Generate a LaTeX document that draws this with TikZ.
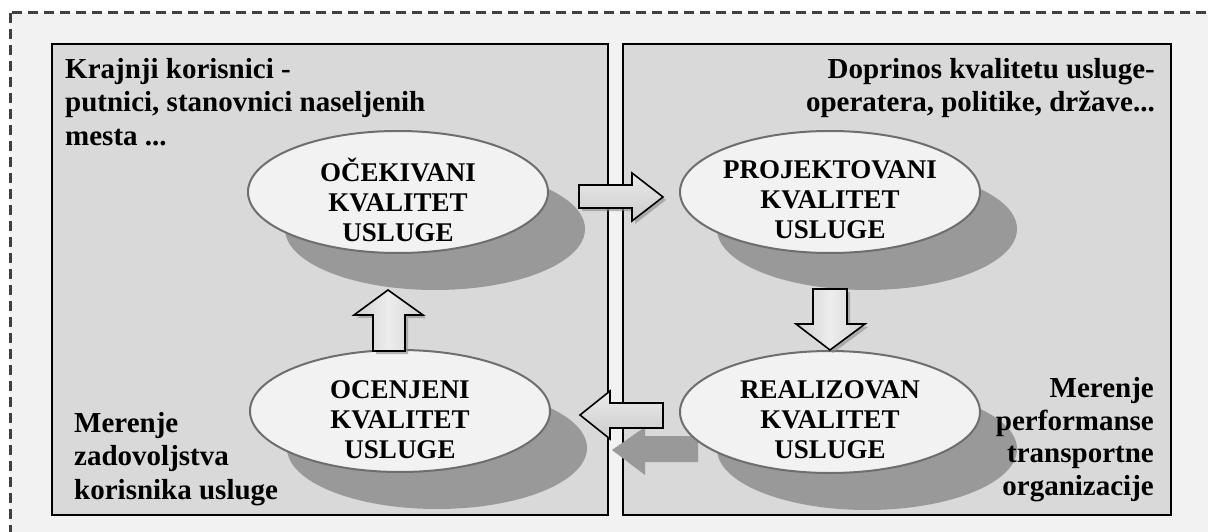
\documentclass[tikz,border=0pt]{standalone}
\usepackage{fontspec}
\setmainfont{Liberation Serif}
\usetikzlibrary{shapes.geometric}
\definecolor{outerbg}{HTML}{F2F2F2}
\definecolor{panelbg}{HTML}{D9D9D9}
\definecolor{ellfill}{HTML}{F2F2F2}
\definecolor{elldraw}{HTML}{6E6E6E}
\definecolor{shadowc}{HTML}{999999}
\definecolor{dashc}{HTML}{404040}
\tikzset{
  panel/.style={draw=black, line width=1.2pt, fill=panelbg},
  ell/.style={ellipse, draw=elldraw, line width=2pt, fill=ellfill, minimum width=300pt, minimum height=122pt, inner sep=0pt},
  ellshadow/.style={ellipse, fill=shadowc, minimum width=300pt, minimum height=122pt, inner sep=0pt},
  elltext/.style={align=center, font=\fontsize{27}{30}\selectfont\bfseries, inner sep=0pt},
  lbl/.style={font=\fontsize{29}{33}\selectfont\bfseries, inner sep=0pt},
  barrow/.style={draw=black, line width=1.6pt, line join=miter, top color=white!92!black, bottom color=white!80!black},
  varrow/.style={draw=black, line width=1.6pt, line join=miter, left color=white!82!black, right color=white!82!black, middle color=white!93!black},
  arrshadow/.style={fill=black!45, opacity=0.6},
  bigshadow/.style={fill=shadowc}
}
\begin{document}
\begin{tikzpicture}[x=1pt,y=-1pt]
\useasboundingbox (0,0) rectangle (1208,532);
\fill[white] (0,0) rectangle (1208,532);
\begin{scope}
\clip (0,0) rectangle (1208,532);
\draw[dashc, fill=outerbg, line width=3pt, dash pattern=on 10pt off 6pt] (10,13) rectangle (1220,545);
\end{scope}
% panels
\draw[panel] (52,44) rectangle (608,515);
\draw[panel] (623,44) rectangle (1171,515);
% ellipse shadows
\node[ellshadow] (s1) at (435,229) {};
\node[ellshadow] (s2) at (867,229) {};
\node[ellshadow] (s3) at (867,449) {};
\node[ellshadow] (s4) at (437,448) {};
% labels
\node[lbl, anchor=base west] (l1) at (65,79) {Krajnji korisnici -};
\node[lbl, anchor=base west] (l2) at (65,112) {putnici, stanovnici naseljenih};
\node[lbl, anchor=base west] (l3) at (65,146) {mesta ...};
\node[lbl, anchor=base east] (r1) at (1155,79) {Doprinos kvalitetu usluge-};
\node[lbl, anchor=base east] (r2) at (1155,112) {operatera, politike, države...};
\node[lbl, anchor=base west] (b1) at (74,432) {Merenje};
\node[lbl, anchor=base west] (b2) at (74,465) {zadovoljstva};
\node[lbl, anchor=base west] (b3) at (74,499) {korisnika usluge};
\node[lbl, anchor=base east] (c1) at (1154,397) {Merenje};
\node[lbl, anchor=base east] (c2) at (1154,430) {performanse};
\node[lbl, anchor=base east] (c3) at (1154,462) {transportne};
\node[lbl, anchor=base east] (c4) at (1154,495) {organizacije};
% big shadow of left arrow
\fill[bigshadow] (612,450) -- (645,427) -- (645,436) -- (698,436) -- (698,462) -- (645,462) -- (645,475) -- cycle;
% ellipses
\node[ell] (e1) at (398,192) {};
\node[ell] (e2) at (830,192) {};
\node[ell] (e3) at (830,412) {};
\node[ell] (e4) at (400,411) {};
\node[elltext] (t1) at (398,200) {OČEKIVANI\\KVALITET\\USLUGE};
\node[elltext] (t2) at (830,200) {PROJEKTOVANI\\KVALITET\\USLUGE};
\node[elltext] (t3) at (830,420) {REALIZOVAN\\KVALITET\\USLUGE};
\node[elltext] (t4) at (400,420) {OCENJENI\\KVALITET\\USLUGE};
% arrow small shadows
\fill[arrshadow] (582,188) -- (635,188) -- (635,176) -- (666,200) -- (635,224) -- (635,211) -- (582,211) -- cycle;
\fill[arrshadow] (816,292) -- (850,292) -- (850,327) -- (868,327) -- (833,353) -- (799,327) -- (816,327) -- cycle;
\fill[arrshadow] (391,293) -- (426,318) -- (408,318) -- (408,354) -- (376,354) -- (376,318) -- (357,318) -- cycle;
% block arrows
\draw[barrow] (579,185) -- (632,185) -- (632,173) -- (663,197) -- (632,221) -- (632,208) -- (579,208) -- cycle;
\draw[varrow] (813,289) -- (847,289) -- (847,324) -- (865,324) -- (830,350) -- (796,324) -- (813,324) -- cycle;
\draw[varrow] (388,290) -- (423,315) -- (405,315) -- (405,351) -- (373,351) -- (373,315) -- (354,315) -- cycle;
\draw[barrow] (580,415) -- (610,391) -- (610,403) -- (663,403) -- (663,428) -- (610,428) -- (610,439) -- cycle;
\end{tikzpicture}
\end{document}
